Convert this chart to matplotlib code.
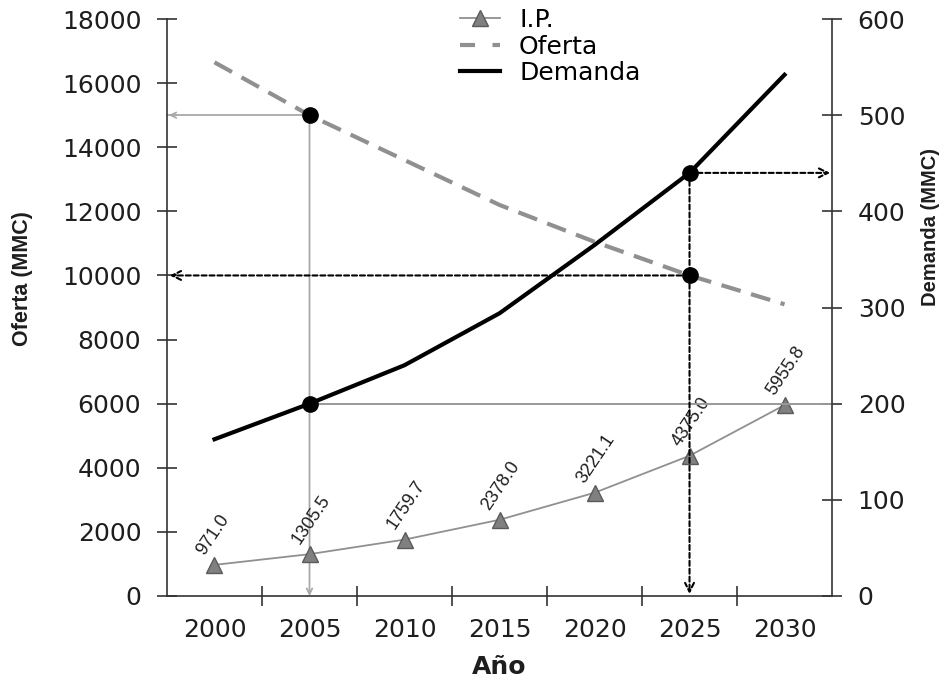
import matplotlib
matplotlib.use("Agg")
import matplotlib.pyplot as plt
from matplotlib.lines import Line2D
from matplotlib.ticker import FixedLocator, NullFormatter

plt.rcParams['font.family'] = ['DejaVu Sans']

years = ["2000", "2005", "2010", "2015", "2020", "2025", "2030"]
ip_values = [971.0, 1305.5, 1759.7, 2378.0, 3221.1, 4375.0, 5955.8]
oferta = [16650, 15000, 13600, 12200, 11050, 10000, 9100]
demanda = [163, 200, 240, 294, 365, 440, 542]

# highlighted readings
mark_2005_oferta = 15000
mark_2005_demanda = 200
mark_2025_oferta = 10000
mark_2025_demanda = 440

x = list(range(len(years)))
xl, xr = -0.5, 6.5

fig = plt.figure(figsize=(9.51, 6.82), dpi=100)
ax = fig.add_axes([0.1756, 0.1261, 0.6993, 0.846])
ax2 = ax.twinx()

axis_col = '#333333'
txt_col = '#1e1e1e'
for a in (ax, ax2):
    a.set_xlim(xl, xr)
    a.spines['top'].set_visible(False)
    for s in ('left', 'right', 'bottom'):
        a.spines[s].set_color(axis_col)
        a.spines[s].set_linewidth(1.2)
ax.spines['right'].set_visible(False)
ax2.spines['left'].set_visible(False)
ax2.spines['bottom'].set_visible(False)

ax.set_ylim(0, 18000)
ax2.set_ylim(0, 600)
ax.set_yticks(range(0, 18001, 2000))
ax2.set_yticks(range(0, 601, 100))

ax.set_xticks(x)
ax.set_xticklabels(years)
ax.xaxis.set_minor_locator(FixedLocator([k + 0.5 for k in range(len(years) - 1)]))
ax.xaxis.set_minor_formatter(NullFormatter())
ax.tick_params(axis='x', which='major', length=0, pad=16, labelsize=18, colors=txt_col)
ax.tick_params(axis='x', which='minor', direction='inout', length=14, width=1.2, color=axis_col)
ax.tick_params(axis='y', direction='inout', length=15, width=1.2, color=axis_col,
               labelsize=18, pad=11, labelcolor=txt_col)
ax2.tick_params(axis='y', direction='inout', length=15, width=1.2, color=axis_col,
                labelsize=18, pad=11, labelcolor=txt_col)

ax.set_xlabel("Año", fontsize=18, fontweight='bold', color=txt_col)
ax.xaxis.set_label_coords(0.5, -0.102)
ax.set_ylabel("Oferta (MMC)", fontsize=15.5, fontweight='bold', color=txt_col,
              family='Liberation Sans')
ax.yaxis.set_label_coords(-0.201, 0.55)
ax2.set_ylabel("Demanda (MMC)", fontsize=14.5, fontweight='bold', color=txt_col,
               family='Liberation Sans')
ax2.yaxis.set_label_coords(1.134, 0.64)

gray = '#a8a8a8'
# reference guides for 2005 (thin gray)
ax.plot([xl, x[1]], [mark_2005_oferta, mark_2005_oferta], color=gray, lw=1.3, zorder=2)
ax.annotate('', xy=(xl + 0.02, mark_2005_oferta), xytext=(xl + 0.1, mark_2005_oferta),
            arrowprops=dict(arrowstyle='->', color=gray, lw=1.2, shrinkA=0, shrinkB=0))
ax.annotate('', xy=(x[1], 0), xytext=(x[1], mark_2005_oferta),
            arrowprops=dict(arrowstyle='->', color=gray, lw=1.3, shrinkA=0, shrinkB=0))
ax2.plot([x[1], xr], [mark_2005_demanda, mark_2005_demanda], color='#999999', lw=1.4, zorder=2)

# reference guides for 2025 (black dashed)
dash = dict(arrowstyle='->', color='black', lw=1.5, linestyle=(0, (2.4, 1.4)),
            shrinkA=0, shrinkB=0, mutation_scale=16)
ax.annotate('', xy=(xl + 0.03, mark_2025_oferta), xytext=(x[5], mark_2025_oferta), arrowprops=dash)
ax2.annotate('', xy=(x[5], 2), xytext=(x[5], mark_2025_demanda), arrowprops=dash)
ax2.annotate('', xy=(xr - 0.02, mark_2025_demanda), xytext=(x[5], mark_2025_demanda), arrowprops=dash)

# series
ax.plot(x, oferta, color='#909090', lw=3, ls=(0, (4.8, 2.6)), zorder=3)
ax.plot(x, ip_values, color='#909090', lw=1.3, marker='^', markersize=12,
        markerfacecolor='#808080', markeredgecolor='#5a5a5a', zorder=4)
ax2.plot(x, demanda, color='black', lw=3, zorder=3)

# highlighted points
ax.plot([x[1], x[5]], [mark_2005_oferta, mark_2025_oferta], 'o', color='black', markersize=11, zorder=5)
ax2.plot([x[1], x[5]], [mark_2005_demanda, mark_2025_demanda], 'o', color='black', markersize=11, zorder=5)

# value labels for I.P.
for xi, v in zip(x, ip_values):
    ax.annotate(f"{v:.1f}", xy=(xi, v), xytext=(-5, 5), textcoords='offset points',
                rotation=56, rotation_mode='anchor', ha='left', va='bottom',
                fontsize=13, color=txt_col, family='Liberation Sans')

handles = [
    Line2D([], [], color='#909090', lw=1.3, marker='^', markersize=11,
           markerfacecolor='#808080', markeredgecolor='#5a5a5a'),
    Line2D([], [], color='#909090', lw=3, ls=(0, (3.6, 4.2))),
    Line2D([], [], color='black', lw=3),
]
fig.legend(handles, ["I.P.", "Oferta", "Demanda"], loc='upper left',
           bbox_to_anchor=(0.484, 0.988), frameon=False, fontsize=18,
           handlelength=1.6, handletextpad=0.75, labelspacing=0.1,
           borderpad=0, borderaxespad=0)

fig.savefig("out.png", dpi=100)
